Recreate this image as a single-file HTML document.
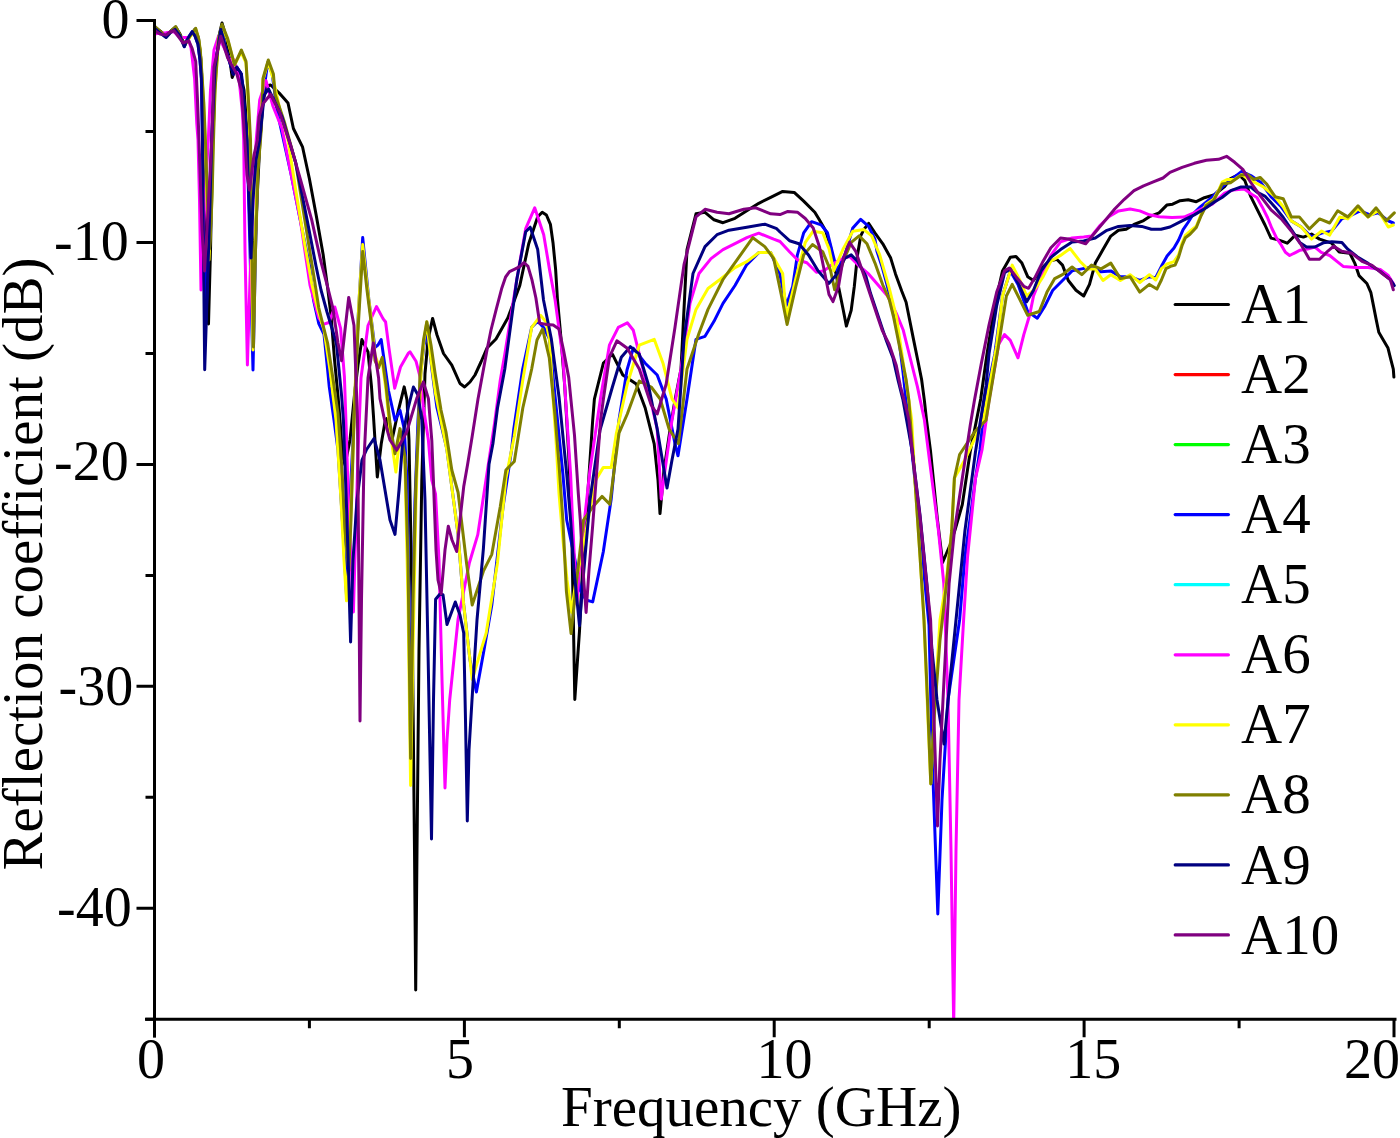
<!DOCTYPE html>
<html><head><meta charset="utf-8"><style>
html,body{margin:0;padding:0;background:#fff;}
svg{display:block;font-family:"Liberation Serif",serif;}
</style></head><body>
<svg width="1400" height="1138" viewBox="0 0 1400 1138">
<rect width="1400" height="1138" fill="#fff"/>
<clipPath id="pc"><rect x="150" y="0" width="1250" height="1019"/></clipPath>
<g fill="none" stroke-width="3" stroke-linejoin="round" stroke-linecap="round" clip-path="url(#pc)">
<path d="M154.5 27.0 L160.0 31.0 L166.0 36.0 L171.0 31.0 L175.7 27.0 L180.0 34.0 L184.3 44.0 L190.0 36.0 L195.0 29.0 L198.5 38.0 L201.0 60.0 L204.0 130.0 L206.5 250.0 L208.5 324.0 L210.5 250.0 L212.5 150.0 L215.0 80.0 L218.5 38.0 L222.0 23.0 L227.0 40.0 L232.2 77.4 L236.0 68.0 L240.0 72.0 L244.0 90.0 L247.0 130.0 L250.0 200.0 L254.0 271.0 L257.0 200.0 L260.0 140.0 L263.0 100.0 L267.0 86.0 L270.6 85.0 L279.2 93.0 L284.3 98.8 L288.0 103.0 L293.4 128.5 L302.5 146.8 L309.4 178.8 L316.2 215.3 L323.1 254.2 L327.7 288.4 L331.0 315.0 L334.6 360.7 L338.0 395.8 L340.0 420.0 L342.5 455.0 L345.0 465.0 L350.0 440.0 L355.0 390.0 L358.0 365.0 L361.9 339.6 L368.0 351.9 L371.5 387.0 L373.4 415.0 L377.3 477.0 L381.2 444.0 L385.0 422.0 L386.7 418.6 L392.0 440.0 L398.4 410.3 L404.2 386.9 L407.0 400.0 L409.0 440.0 L412.0 600.0 L414.5 850.0 L415.7 990.0 L417.0 850.0 L419.0 650.0 L421.8 480.0 L425.0 373.5 L428.0 340.0 L432.6 318.4 L437.0 335.0 L443.5 353.5 L451.8 365.2 L460.0 383.5 L464.6 387.0 L470.0 382.0 L475.0 375.0 L481.0 362.0 L487.0 348.0 L496.0 339.0 L507.8 318.0 L519.8 285.5 L528.7 243.7 L537.7 216.8 L542.2 212.3 L546.4 215.0 L550.4 224.3 L553.0 242.7 L555.6 269.1 L557.5 300.0 L561.0 338.7 L564.8 387.0 L568.7 454.7 L571.6 520.0 L573.0 600.0 L574.8 699.4 L579.5 630.9 L583.0 560.0 L587.4 499.0 L592.7 420.0 L594.4 399.0 L603.4 363.0 L612.4 354.2 L622.8 375.0 L627.3 378.0 L636.3 384.0 L645.2 408.0 L654.2 443.8 L658.0 480.0 L660.0 513.6 L664.0 470.0 L670.0 430.0 L675.0 400.0 L681.0 369.0 L687.0 249.6 L696.0 213.8 L705.0 212.3 L714.0 219.8 L723.0 222.7 L735.0 218.3 L746.8 210.8 L758.8 203.3 L770.7 197.3 L782.7 191.4 L794.2 192.4 L803.7 201.1 L814.8 212.2 L819.5 220.1 L825.9 231.2 L830.6 247.0 L833.8 262.8 L838.5 286.5 L843.3 310.3 L846.4 326.1 L851.2 310.3 L854.3 286.5 L857.5 254.9 L860.7 235.9 L863.8 229.6 L868.6 223.3 L874.9 232.8 L882.8 243.8 L890.7 258.1 L895.5 273.9 L901.8 291.3 L906.1 302.2 L910.3 323.3 L913.1 337.4 L917.4 358.5 L921.6 379.5 L924.4 400.6 L926.5 420.0 L930.6 451.8 L937.2 517.7 L942.6 562.5 L950.0 545.0 L955.0 530.0 L962.3 504.6 L970.2 451.8 L980.7 399.0 L987.0 354.0 L994.8 305.6 L1002.5 270.9 L1010.3 257.3 L1016.0 256.4 L1021.9 263.1 L1027.7 276.7 L1033.5 280.5 L1041.2 268.9 L1048.9 261.2 L1056.7 259.3 L1062.5 265.1 L1068.3 280.5 L1076.0 290.2 L1083.7 296.0 L1089.5 284.4 L1095.3 263.1 L1103.0 249.6 L1110.8 236.1 L1118.5 230.3 L1126.2 229.3 L1134.0 224.5 L1143.6 220.6 L1149.4 216.7 L1159.1 212.9 L1166.8 205.1 L1172.6 204.2 L1180.1 200.7 L1188.2 199.7 L1196.3 201.7 L1204.4 197.7 L1214.5 194.7 L1224.6 186.6 L1230.6 178.5 L1238.7 174.5 L1244.8 180.5 L1250.8 196.7 L1258.9 212.9 L1265.0 225.0 L1271.0 238.1 L1279.1 240.1 L1287.2 243.2 L1295.3 235.1 L1303.4 237.1 L1311.5 234.1 L1319.6 239.1 L1331.7 243.2 L1339.2 251.9 L1349.8 253.2 L1355.0 263.7 L1359.0 275.6 L1366.9 283.5 L1370.9 292.7 L1373.5 305.9 L1376.1 319.1 L1378.8 332.3 L1382.7 338.9 L1388.0 348.1 L1390.6 358.6 L1393.3 369.2 L1393.9 377.1" stroke="#000000"/>
<path d="M154.5 27.0 L160.0 32.0 L166.0 37.4 L171.0 32.0 L175.0 29.4 L180.0 36.0 L184.3 46.6 L188.0 38.0 L192.3 31.7 L195.0 36.0 L198.0 44.3 L200.0 60.0 L201.4 78.5 L202.5 140.0 L204.0 250.0 L206.0 320.0 L208.0 260.0 L210.0 200.0 L211.7 140.0 L215.0 67.0 L220.8 29.4 L227.7 55.7 L233.4 74.0 L236.8 67.0 L241.4 74.0 L244.8 112.8 L247.0 140.0 L250.0 250.0 L253.0 370.0 L255.5 250.0 L258.0 160.0 L259.7 140.0 L264.2 87.7 L267.7 62.5 L272.2 74.0 L277.4 112.5 L291.1 174.2 L302.5 231.3 L309.4 265.0 L313.5 300.0 L318.8 323.7 L324.0 334.3 L327.6 369.5 L329.3 387.0 L334.0 420.0 L338.0 450.0 L343.0 530.0 L346.5 595.0 L350.0 500.0 L354.0 420.0 L358.0 320.0 L362.7 237.6 L368.7 298.4 L374.8 347.5 L378.0 345.0 L381.2 339.6 L388.4 390.2 L395.0 420.3 L400.0 410.3 L404.2 428.6 L407.0 480.0 L409.0 600.0 L410.5 740.0 L412.5 620.0 L415.0 500.0 L418.0 420.0 L421.0 370.0 L424.0 345.0 L427.6 331.8 L432.0 370.0 L436.8 406.9 L446.8 448.7 L458.1 534.6 L463.7 604.9 L470.0 660.0 L476.4 692.0 L484.0 650.0 L491.8 605.0 L503.1 506.5 L511.5 450.3 L513.8 429.0 L522.7 369.0 L531.7 327.3 L537.7 321.3 L544.0 328.0 L549.3 338.7 L555.1 396.7 L562.9 474.0 L566.7 520.0 L575.0 560.0 L580.0 590.0 L586.0 600.0 L592.7 601.9 L603.3 551.8 L611.2 499.0 L619.0 420.0 L627.0 370.0 L633.3 348.2 L645.2 363.2 L657.2 375.0 L666.2 399.0 L675.0 443.8 L678.0 455.8 L687.0 399.0 L696.0 339.3 L705.0 336.3 L714.0 321.3 L723.0 303.4 L735.0 285.5 L746.8 264.6 L758.8 252.6 L770.7 252.6 L779.7 273.5 L786.3 305.5 L792.7 286.5 L797.4 254.9 L803.7 232.8 L811.6 221.7 L821.1 224.9 L827.5 232.8 L832.2 251.7 L837.0 270.7 L844.9 254.9 L852.8 228.0 L860.7 219.3 L868.6 226.4 L874.9 239.1 L876.9 251.1 L882.1 266.9 L886.4 282.7 L890.6 298.5 L895.0 318.0 L899.5 344.0 L903.0 372.0 L906.0 400.0 L912.0 452.0 L919.0 518.0 L925.0 584.0 L929.0 625.0 L932.0 750.0 L937.8 914.0 L942.0 800.0 L948.0 700.0 L959.6 620.0 L964.9 557.3 L975.5 478.2 L980.0 450.0 L985.1 400.0 L994.8 354.0 L1002.5 296.0 L1010.3 270.9 L1018.0 284.4 L1027.7 311.5 L1037.3 318.2 L1045.1 305.6 L1052.8 290.2 L1062.5 280.5 L1072.1 270.9 L1081.8 268.9 L1091.5 267.0 L1101.1 271.8 L1110.8 270.9 L1120.4 276.7 L1130.1 276.7 L1139.8 280.5 L1149.4 276.7 L1155.7 277.7 L1161.4 266.3 L1167.1 256.0 L1174.0 248.0 L1178.6 240.0 L1183.1 229.7 L1188.0 222.5 L1194.0 213.0 L1200.3 206.8 L1210.4 198.7 L1222.5 186.6 L1232.7 178.5 L1241.7 171.4 L1250.8 175.5 L1260.9 182.5 L1271.0 196.7 L1281.2 206.8 L1291.3 220.9 L1301.4 227.0 L1311.5 237.1 L1321.6 233.1 L1331.7 231.0 L1341.8 218.9 L1351.9 214.9 L1360.0 210.8 L1370.1 214.9 L1378.2 212.9 L1388.3 220.9 L1393.3 223.0" stroke="#0000ff"/>
<path d="M154.5 34.0 L160.0 33.0 L166.0 32.8 L174.0 31.7 L179.7 37.4 L187.7 37.4 L191.0 47.7 L194.6 78.5 L196.8 124.0 L198.0 140.0 L199.5 200.0 L201.0 290.0 L203.0 240.0 L206.0 180.0 L208.3 140.0 L210.5 90.0 L214.0 50.0 L218.5 36.3 L224.0 47.7 L230.0 60.0 L234.5 60.0 L239.0 78.5 L242.5 112.8 L243.7 140.0 L245.0 250.0 L247.4 365.0 L250.0 280.0 L253.0 200.0 L256.2 140.0 L259.7 100.0 L266.0 80.6 L272.8 105.7 L282.0 128.5 L291.1 174.2 L300.3 219.9 L307.1 265.6 L310.0 285.0 L314.0 300.0 L318.8 318.0 L323.2 324.4 L329.0 322.5 L334.8 307.0 L340.6 328.3 L344.4 376.6 L346.4 434.6 L348.3 500.0 L351.0 560.0 L353.4 612.0 L355.5 540.0 L358.0 454.0 L361.0 378.0 L363.8 357.3 L368.0 325.5 L376.5 306.5 L383.0 318.6 L385.6 322.0 L388.9 347.6 L394.7 388.2 L400.5 367.0 L408.2 353.4 L410.0 351.8 L416.0 361.2 L420.0 376.6 L423.4 407.0 L428.4 440.3 L431.8 480.0 L435.5 493.8 L439.0 560.0 L442.0 680.0 L445.0 788.0 L447.0 740.0 L449.7 700.0 L458.1 619.0 L469.4 562.7 L477.8 534.6 L486.2 478.4 L494.7 422.2 L500.3 380.0 L504.8 354.2 L516.8 279.5 L525.7 228.7 L534.7 207.8 L543.7 234.7 L549.6 270.0 L555.1 300.0 L562.9 358.0 L566.7 416.0 L570.6 474.0 L572.5 520.0 L574.5 560.0 L576.9 604.5 L580.0 560.0 L590.0 470.0 L600.4 399.0 L609.4 345.2 L618.3 327.3 L627.3 322.8 L633.3 330.3 L639.3 354.2 L648.2 390.0 L657.2 429.0 L661.2 499.0 L665.0 470.0 L672.0 420.0 L681.0 369.0 L690.0 303.4 L699.0 273.5 L711.0 258.6 L723.0 249.6 L735.0 243.7 L746.8 237.7 L758.8 233.2 L773.7 239.2 L780.0 241.5 L789.5 251.7 L797.4 259.7 L806.9 262.8 L816.4 272.3 L824.3 270.7 L832.2 264.4 L840.1 259.7 L849.6 256.5 L859.1 266.0 L868.6 273.9 L878.1 285.0 L887.6 296.0 L896.3 313.4 L903.3 330.3 L910.3 358.5 L917.4 386.6 L924.4 420.0 L931.0 472.0 L938.5 531.0 L943.8 583.6 L948.0 700.0 L951.0 850.0 L953.7 1025.0 L956.0 850.0 L959.0 700.0 L963.6 620.0 L967.5 557.3 L975.5 478.2 L982.0 450.0 L989.0 400.0 L998.7 344.3 L1004.5 334.6 L1010.3 340.4 L1018.0 357.8 L1023.8 334.6 L1029.6 315.3 L1033.5 296.0 L1041.2 276.7 L1050.9 255.4 L1060.5 241.9 L1072.1 238.0 L1083.7 237.0 L1091.5 236.1 L1099.2 226.4 L1108.8 216.7 L1118.5 210.9 L1130.1 209.0 L1139.8 210.9 L1149.4 214.8 L1159.1 216.7 L1172.0 217.5 L1184.0 217.1 L1193.8 212.8 L1201.2 209.1 L1212.3 204.2 L1224.6 193.1 L1233.0 190.0 L1244.3 189.0 L1251.6 194.3 L1256.9 197.5 L1262.2 206.9 L1267.5 217.5 L1271.7 228.0 L1276.9 238.6 L1281.2 244.9 L1285.4 252.3 L1289.6 255.5 L1295.9 252.3 L1300.1 250.2 L1307.5 249.1 L1314.9 247.0 L1321.2 252.3 L1329.7 255.5 L1336.6 261.1 L1343.2 266.4 L1355.9 267.4 L1368.1 267.4 L1380.2 269.4 L1388.3 275.5 L1393.3 283.6" stroke="#ff00ff"/>
<path d="M154.5 27.0 L160.0 32.0 L166.0 37.0 L171.0 32.0 L175.7 27.5 L180.0 36.0 L184.3 46.0 L190.0 37.0 L195.7 29.0 L198.5 39.0 L200.3 52.0 L202.0 78.0 L203.7 104.0 L205.0 140.0 L207.0 200.0 L209.0 260.0 L211.5 200.0 L213.0 140.0 L215.0 90.0 L218.5 40.0 L222.0 26.0 L227.7 40.0 L234.5 65.0 L241.0 52.0 L246.0 63.0 L248.0 96.0 L250.0 140.0 L251.5 250.0 L253.0 350.0 L255.0 250.0 L257.5 170.0 L261.0 128.0 L263.0 80.0 L268.0 62.0 L273.0 78.0 L280.0 110.0 L288.0 140.0 L295.7 190.0 L304.0 240.0 L312.0 285.0 L318.0 310.0 L324.0 330.0 L330.0 370.0 L336.0 420.0 L341.0 500.0 L344.0 560.0 L346.5 600.8 L349.0 560.0 L352.0 480.0 L355.0 390.0 L359.0 300.0 L362.7 244.6 L367.0 285.0 L371.5 322.0 L375.0 355.0 L378.5 365.0 L382.0 360.0 L386.0 390.0 L390.0 430.0 L395.9 472.0 L400.0 435.0 L405.0 465.0 L408.0 600.0 L410.6 785.4 L413.0 650.0 L416.0 500.0 L418.4 430.0 L421.0 373.0 L424.0 340.0 L426.8 322.0 L431.0 360.0 L435.6 394.0 L446.9 450.3 L458.1 534.6 L463.7 604.9 L472.2 679.4 L486.2 633.0 L497.5 562.7 L505.9 478.4 L514.3 436.2 L522.8 380.0 L531.7 327.3 L540.7 315.4 L546.0 322.0 L549.6 340.0 L553.2 400.0 L556.0 440.0 L559.0 493.4 L563.0 540.0 L567.0 580.0 L571.6 612.4 L576.0 580.0 L582.2 551.8 L595.3 480.6 L603.3 467.4 L611.2 467.4 L616.4 433.2 L627.3 384.0 L639.3 345.2 L654.2 339.3 L663.0 363.2 L672.0 399.0 L678.0 408.0 L687.0 339.3 L696.0 309.4 L708.0 288.5 L720.0 279.5 L735.0 267.6 L746.8 261.6 L758.8 252.6 L770.7 252.6 L782.7 273.5 L786.3 318.2 L795.8 278.6 L805.3 242.3 L813.2 231.2 L822.7 232.8 L829.0 248.6 L833.8 270.7 L843.3 248.6 L852.8 231.2 L863.8 229.6 L871.7 235.9 L879.7 254.9 L889.2 288.1 L896.3 316.3 L900.5 344.4 L904.7 372.5 L908.9 400.6 L911.7 420.0 L914.8 478.2 L920.1 557.3 L924.0 620.0 L928.0 720.0 L930.8 783.7 L935.0 700.0 L940.0 620.0 L946.0 583.0 L951.7 531.0 L954.4 478.0 L964.9 459.7 L983.4 420.2 L996.5 346.4 L1002.5 296.0 L1012.2 265.1 L1020.0 280.5 L1026.7 296.0 L1035.4 288.3 L1043.1 276.7 L1050.9 261.2 L1060.5 255.4 L1070.2 248.6 L1079.9 261.2 L1087.6 268.9 L1095.3 268.9 L1103.0 280.5 L1110.8 274.7 L1120.4 280.5 L1130.1 274.7 L1139.8 282.5 L1149.4 274.7 L1155.7 280.0 L1161.4 268.6 L1167.1 264.0 L1174.0 261.7 L1178.6 254.9 L1182.0 243.4 L1185.4 235.4 L1190.2 231.0 L1196.3 226.3 L1201.2 214.0 L1206.2 204.2 L1213.5 199.2 L1218.5 190.6 L1222.2 182.0 L1227.1 179.5 L1234.5 179.5 L1241.7 174.5 L1250.8 180.5 L1263.0 186.6 L1275.1 196.7 L1283.2 206.8 L1291.3 220.9 L1301.4 227.0 L1311.5 239.1 L1321.6 231.0 L1329.7 235.1 L1339.8 216.9 L1347.8 218.9 L1358.0 208.8 L1368.1 216.9 L1378.2 210.8 L1388.3 227.0 L1393.3 225.0" stroke="#ffff00"/>
<path d="M154.5 26.0 L160.0 31.0 L166.0 36.8 L171.0 31.0 L175.7 26.6 L180.0 35.0 L184.3 46.0 L190.0 36.0 L195.7 28.3 L198.5 38.0 L200.3 50.0 L202.0 75.0 L203.7 101.4 L205.4 140.0 L207.5 200.0 L209.5 249.0 L212.0 200.0 L213.5 140.0 L215.0 90.0 L218.5 38.6 L222.0 24.3 L227.7 38.6 L234.5 64.8 L241.4 50.0 L246.0 61.4 L248.2 95.7 L250.5 140.0 L252.0 250.0 L253.5 347.0 L255.5 250.0 L258.0 170.0 L261.4 128.5 L263.0 78.5 L268.3 60.0 L273.4 74.0 L275.1 94.3 L284.3 121.7 L295.7 162.8 L304.8 219.9 L314.0 277.0 L318.8 308.0 L323.0 325.0 L327.6 343.0 L332.9 378.2 L338.0 413.4 L342.0 470.0 L345.0 530.0 L348.8 571.0 L351.0 520.0 L354.0 420.0 L358.0 330.0 L362.7 251.6 L367.0 290.0 L371.5 325.5 L375.0 360.7 L378.5 368.0 L382.2 357.4 L386.0 385.0 L390.0 423.6 L395.0 453.7 L400.0 428.6 L405.0 457.0 L408.0 560.0 L410.6 758.5 L413.0 600.0 L416.0 480.0 L418.4 430.0 L420.0 373.5 L423.5 340.0 L426.8 321.7 L431.0 345.0 L435.1 373.5 L441.0 410.0 L446.0 432.0 L451.8 470.0 L458.1 492.5 L466.5 562.7 L472.2 605.0 L483.4 571.2 L491.8 554.3 L500.3 506.5 L505.9 470.0 L514.3 461.5 L522.8 408.0 L531.7 369.0 L537.0 340.0 L542.6 329.0 L549.3 358.0 L555.1 416.0 L559.0 464.4 L562.9 520.0 L566.4 591.3 L571.1 633.5 L576.9 578.1 L583.5 520.2 L592.7 507.0 L602.0 496.4 L609.8 504.3 L613.8 472.7 L619.0 433.2 L627.3 414.0 L639.3 381.0 L651.2 387.0 L660.2 399.0 L669.1 429.0 L678.4 443.7 L687.0 369.0 L699.0 333.3 L708.0 309.4 L723.0 279.5 L737.9 258.6 L752.8 237.7 L764.8 246.6 L773.7 258.6 L781.2 294.4 L787.1 324.5 L795.8 286.5 L803.7 254.9 L812.4 244.6 L822.7 251.7 L830.6 270.7 L834.6 289.7 L843.3 261.2 L851.2 242.3 L859.1 235.9 L867.0 243.8 L874.9 262.8 L882.8 285.0 L889.2 299.4 L893.4 316.3 L897.7 337.4 L901.9 358.5 L906.1 379.5 L908.9 400.6 L910.3 420.0 L914.8 478.2 L920.1 557.3 L924.0 620.0 L927.5 700.0 L930.8 784.0 L934.0 720.0 L940.0 640.0 L946.5 583.6 L951.7 531.0 L954.4 478.2 L959.6 454.5 L975.5 430.7 L986.0 420.2 L993.9 372.7 L998.7 344.3 L1006.4 296.0 L1012.2 284.4 L1020.0 299.9 L1027.7 315.3 L1039.3 311.5 L1047.0 292.1 L1054.7 278.6 L1062.5 274.7 L1072.1 267.0 L1081.8 274.7 L1091.5 265.1 L1101.1 268.9 L1110.8 263.1 L1120.4 278.6 L1130.1 276.7 L1139.8 292.1 L1149.4 284.4 L1156.9 289.1 L1161.4 280.0 L1166.0 268.6 L1170.6 266.3 L1175.1 265.1 L1178.6 257.1 L1182.0 245.7 L1185.4 237.7 L1190.0 234.3 L1196.3 227.5 L1201.2 215.5 L1206.2 205.5 L1213.5 200.5 L1218.5 191.6 L1222.2 184.0 L1230.5 182.7 L1241.1 175.3 L1247.4 174.3 L1253.7 179.5 L1260.1 177.4 L1266.4 183.7 L1275.1 196.7 L1283.2 198.7 L1291.3 216.9 L1299.3 216.9 L1309.4 229.0 L1319.6 218.9 L1329.7 223.0 L1337.7 210.8 L1347.8 216.9 L1358.0 205.8 L1368.1 216.9 L1376.1 207.8 L1386.2 220.9 L1394.3 212.9" stroke="#808000"/>
<path d="M154.5 28.0 L160.0 33.0 L166.0 37.4 L171.0 32.0 L175.0 29.4 L180.0 36.0 L184.3 46.6 L188.0 38.0 L192.3 31.7 L195.0 36.0 L198.0 44.3 L200.0 60.0 L201.4 78.5 L202.5 140.0 L203.5 250.0 L204.7 369.7 L207.0 300.0 L209.5 220.0 L211.7 140.0 L215.0 67.0 L220.8 29.4 L227.7 55.7 L233.4 74.0 L236.8 67.0 L241.4 74.0 L244.8 112.8 L247.0 140.0 L249.0 200.0 L251.0 258.0 L253.0 200.0 L256.0 160.0 L259.7 140.0 L264.2 95.0 L268.5 89.0 L282.0 117.0 L295.7 162.8 L307.1 219.9 L316.0 266.0 L321.0 290.0 L327.0 312.0 L336.4 343.0 L341.6 395.8 L343.4 420.0 L347.0 520.0 L350.6 642.0 L353.0 560.0 L357.0 500.0 L362.0 460.0 L366.6 449.5 L374.0 438.5 L380.0 460.0 L385.0 490.0 L390.0 520.0 L395.0 534.4 L399.0 490.0 L403.4 432.0 L408.4 407.0 L413.4 387.0 L418.0 395.0 L421.8 420.0 L425.0 500.0 L428.0 650.0 L431.5 839.0 L433.5 700.0 L435.6 599.3 L440.0 594.0 L443.0 594.7 L447.0 624.5 L455.3 602.0 L460.0 615.0 L463.7 633.0 L465.5 720.0 L467.3 821.0 L469.0 750.0 L472.0 700.0 L477.0 620.0 L483.4 548.7 L489.0 464.3 L492.9 443.8 L497.5 408.0 L504.8 369.0 L516.8 279.5 L525.7 231.7 L530.2 227.2 L537.7 249.6 L543.5 300.0 L551.3 338.7 L559.0 396.7 L566.7 474.0 L570.6 520.0 L574.0 570.0 L579.5 625.6 L583.0 580.0 L590.0 500.0 L600.0 430.0 L612.4 387.0 L621.3 357.2 L630.3 346.7 L639.3 354.2 L648.2 384.0 L657.2 429.0 L667.0 488.0 L672.0 460.0 L678.0 429.0 L684.0 339.3 L693.0 273.5 L705.0 246.6 L717.0 234.7 L729.0 230.2 L746.8 227.2 L764.8 224.2 L776.7 228.7 L780.0 232.0 L789.5 240.7 L799.0 243.8 L808.5 254.9 L818.0 270.7 L829.0 283.4 L837.0 273.9 L844.9 258.1 L851.2 254.9 L857.5 261.2 L865.8 276.0 L870.5 293.3 L875.8 309.1 L881.1 324.9 L886.4 340.7 L893.0 358.0 L898.0 380.0 L903.0 400.0 L912.0 450.0 L920.0 515.0 L927.0 585.0 L932.0 650.0 L937.0 700.0 L944.0 744.0 L950.0 680.0 L957.0 610.0 L964.9 531.0 L975.5 451.8 L986.0 385.9 L989.0 354.0 L996.7 305.6 L1004.5 272.8 L1010.3 268.9 L1018.0 282.5 L1026.7 301.8 L1033.5 290.2 L1041.2 270.9 L1050.9 257.3 L1060.5 249.6 L1072.1 241.9 L1083.7 240.9 L1095.3 238.0 L1106.9 230.3 L1118.5 226.4 L1130.1 225.4 L1141.7 226.4 L1151.4 229.3 L1161.0 229.3 L1170.0 227.0 L1182.1 220.9 L1194.3 214.9 L1206.2 207.8 L1214.8 201.7 L1222.0 197.5 L1230.8 190.6 L1241.1 186.9 L1250.6 186.9 L1256.9 192.2 L1265.3 196.4 L1274.8 206.9 L1283.3 217.5 L1291.7 230.1 L1300.1 242.8 L1306.5 247.0 L1314.9 247.0 L1323.3 242.8 L1331.8 241.7 L1341.9 242.6 L1347.8 249.2 L1358.0 257.3 L1368.1 263.4 L1380.2 271.5 L1390.3 279.6 L1394.3 285.6" stroke="#000080"/>
<path d="M154.5 30.6 L160.0 34.0 L166.0 35.0 L170.0 32.0 L174.0 30.6 L178.0 36.0 L183.0 43.0 L188.8 40.8 L192.0 48.0 L195.7 61.4 L197.5 100.0 L199.0 140.0 L202.0 230.0 L204.5 271.0 L207.5 220.0 L211.7 140.0 L214.0 67.0 L220.8 36.3 L227.7 58.0 L236.8 74.0 L241.4 90.0 L244.8 140.0 L247.0 175.0 L249.5 190.0 L252.0 170.0 L254.0 155.0 L257.4 140.0 L259.0 117.0 L263.0 103.7 L270.6 94.3 L279.7 112.5 L291.1 146.8 L300.3 178.8 L311.7 219.9 L320.8 261.0 L327.6 286.8 L332.9 308.0 L338.0 343.0 L341.6 360.7 L345.0 330.0 L348.7 297.4 L354.0 325.5 L356.0 378.0 L357.5 420.0 L359.0 600.0 L360.0 721.0 L361.5 600.0 L364.0 460.0 L368.0 378.0 L373.3 343.0 L378.6 378.0 L380.0 398.6 L385.0 422.0 L390.0 440.0 L396.7 450.3 L406.7 432.0 L416.7 398.6 L423.4 381.9 L428.4 398.6 L431.8 440.3 L433.4 480.0 L436.0 550.0 L438.0 580.0 L441.2 593.7 L445.0 550.0 L448.3 526.2 L452.0 540.0 L456.7 551.5 L460.0 520.0 L463.7 486.8 L467.5 465.0 L472.2 436.2 L478.0 399.0 L487.0 350.0 L491.0 330.0 L496.4 308.6 L501.6 288.8 L505.6 277.0 L509.5 271.7 L514.8 269.1 L520.1 266.4 L524.0 262.5 L528.0 266.4 L531.9 279.6 L535.9 298.0 L539.7 323.2 L546.6 324.5 L553.2 325.1 L559.0 329.0 L563.5 350.0 L568.7 377.4 L574.5 435.4 L578.3 493.4 L580.3 520.0 L583.0 570.0 L586.1 612.4 L589.0 570.0 L592.7 525.4 L600.6 420.0 L603.4 399.0 L609.4 357.2 L616.9 340.8 L627.3 348.2 L639.3 369.0 L651.2 405.0 L657.2 414.0 L666.2 384.0 L675.0 327.3 L684.0 264.6 L696.0 216.8 L705.0 209.3 L717.0 212.3 L729.0 213.8 L743.8 209.3 L755.8 207.8 L770.7 213.8 L780.0 214.6 L787.9 211.4 L797.4 212.2 L805.3 218.5 L813.2 228.0 L819.5 247.0 L824.3 270.7 L829.0 294.5 L833.0 301.6 L838.5 286.5 L843.3 258.1 L849.6 242.3 L855.9 251.7 L862.3 270.7 L870.2 294.5 L878.1 318.2 L882.2 330.3 L889.2 344.4 L896.3 365.5 L900.5 386.6 L906.1 407.7 L908.9 420.0 L912.2 451.8 L920.1 517.7 L926.7 583.6 L930.6 620.0 L934.0 720.0 L937.5 826.0 L940.0 760.0 L944.0 680.0 L949.1 583.6 L954.4 531.0 L962.3 478.2 L970.2 425.5 L974.5 400.0 L981.3 363.6 L989.0 325.0 L996.7 292.1 L1004.5 270.9 L1009.3 268.0 L1016.0 276.7 L1023.8 286.3 L1028.6 288.3 L1035.4 276.7 L1043.1 261.2 L1050.9 247.7 L1060.5 238.0 L1068.3 239.0 L1076.0 240.9 L1085.7 243.8 L1095.3 232.2 L1105.0 220.6 L1114.7 209.0 L1124.3 199.3 L1134.0 190.6 L1143.6 185.8 L1153.3 181.9 L1163.0 178.0 L1170.0 172.4 L1182.1 167.4 L1194.3 163.3 L1206.4 160.3 L1218.5 159.3 L1226.6 156.3 L1234.7 162.3 L1242.8 169.4 L1250.8 182.5 L1260.9 196.7 L1271.0 209.8 L1281.2 218.9 L1291.3 231.0 L1301.4 245.2 L1309.4 259.3 L1319.6 259.3 L1327.6 251.3 L1333.7 246.2 L1341.8 251.3 L1351.9 253.3 L1362.0 261.4 L1372.1 265.4 L1382.2 273.5 L1390.3 279.6 L1393.3 289.7" stroke="#800080"/>
</g>
<path d="M154.5 19 V1037.5 M145 1019.2 H1396.5" stroke="#000" stroke-width="3" fill="none"/>
<path d="M136.5 20.6H154.5 M145.5 131.6H154.5 M136.5 242.5H154.5 M145.5 353.5H154.5 M136.5 464.4H154.5 M145.5 575.4H154.5 M136.5 686.3H154.5 M145.5 797.3H154.5 M136.5 908.2H154.5 M145.5 1019.2H154.5 M154.5 1019.2V1037.2 M309.4 1019.2V1028.2 M464.4 1019.2V1037.2 M619.3 1019.2V1028.2 M774.2 1019.2V1037.2 M929.2 1019.2V1028.2 M1084.1 1019.2V1037.2 M1239.1 1019.2V1028.2 M1394.0 1019.2V1037.2" stroke="#000" stroke-width="3" fill="none"/>
<text x="101.4" y="38" font-size="56">0</text>
<text x="54" y="260" font-size="56">-10</text>
<text x="54" y="480" font-size="56">-20</text>
<text x="58.6" y="704.5" font-size="56">-30</text>
<text x="57" y="926" font-size="56">-40</text>
<text x="137" y="1078" font-size="56">0</text>
<text x="446" y="1078" font-size="56">5</text>
<text x="756.6" y="1078" font-size="56">10</text>
<text x="1065.3" y="1078" font-size="56">15</text>
<text x="1344" y="1078" font-size="56">20</text>
<text x="561" y="1126" font-size="57">Frequency (GHz)</text>
<text transform="translate(41.5,870.5) rotate(-90)" x="0" y="0" font-size="57">Reflection coefficient (dB)</text>
<path d="M1175.2 304.5H1228.4" stroke="#000000" stroke-width="3.2" stroke-linecap="round"/>
<text x="1241" y="323.1" font-size="57">A1</text>
<path d="M1175.2 374.6H1228.4" stroke="#ff0000" stroke-width="3.2" stroke-linecap="round"/>
<text x="1241" y="393.2" font-size="57">A2</text>
<path d="M1175.2 444.6H1228.4" stroke="#00ff00" stroke-width="3.2" stroke-linecap="round"/>
<text x="1241" y="463.2" font-size="57">A3</text>
<path d="M1175.2 514.6H1228.4" stroke="#0000ff" stroke-width="3.2" stroke-linecap="round"/>
<text x="1241" y="533.2" font-size="57">A4</text>
<path d="M1175.2 584.7H1228.4" stroke="#00ffff" stroke-width="3.2" stroke-linecap="round"/>
<text x="1241" y="603.3" font-size="57">A5</text>
<path d="M1175.2 654.8H1228.4" stroke="#ff00ff" stroke-width="3.2" stroke-linecap="round"/>
<text x="1241" y="673.4" font-size="57">A6</text>
<path d="M1175.2 724.8H1228.4" stroke="#ffff00" stroke-width="3.2" stroke-linecap="round"/>
<text x="1241" y="743.4" font-size="57">A7</text>
<path d="M1175.2 794.8H1228.4" stroke="#808000" stroke-width="3.2" stroke-linecap="round"/>
<text x="1241" y="813.4" font-size="57">A8</text>
<path d="M1175.2 864.9H1228.4" stroke="#000080" stroke-width="3.2" stroke-linecap="round"/>
<text x="1241" y="883.5" font-size="57">A9</text>
<path d="M1175.2 934.9H1228.4" stroke="#800080" stroke-width="3.2" stroke-linecap="round"/>
<text x="1241" y="953.5" font-size="57">A10</text>
</svg>
</body></html>
